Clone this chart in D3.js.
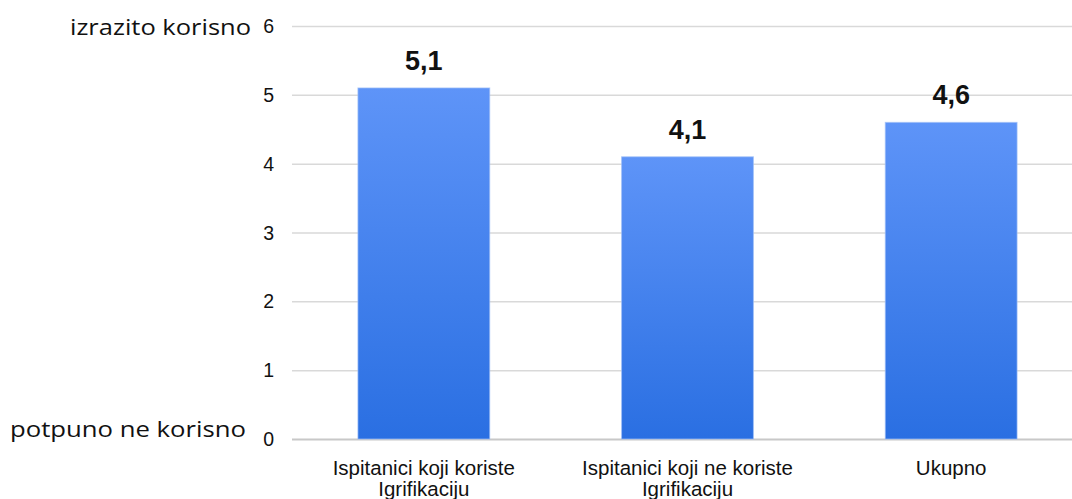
<!DOCTYPE html>
<html><head><meta charset="utf-8">
<script src="https://cdn.jsdelivr.net/npm/d3@7"></script>
<style>body{margin:0;background:#fff}svg{display:block}</style>
</head><body>
<svg id="c" width="1072" height="499"></svg>
<script>
const categories = [["Ispitanici koji koriste","Igrifikaciju"],["Ispitanici koji ne koriste","Igrifikaciju"],["Ukupno"]];
const values = [5.1, 4.1, 4.6];
const valueLabels = ["5,1","4,1","4,6"];
const yTicks = [0,1,2,3,4,5,6];
const topLabel = "izrazito korisno";
const bottomLabel = "potpuno ne korisno";

const svg = d3.select("#c");
const x = d3.scaleBand().domain(d3.range(values.length)).range([292, 1083]).paddingInner(0.5).paddingOuter(0.25);
const y = d3.scaleLinear().domain([0, 6]).range([439, 26]);

const defs = svg.append("defs");
const g = defs.append("linearGradient").attr("id","bg").attr("x1",0).attr("y1",0).attr("x2",0).attr("y2",1);
g.append("stop").attr("offset","0%").attr("stop-color","#5e94f8");
g.append("stop").attr("offset","100%").attr("stop-color","#2a6fe2");

// gridlines
svg.append("g").selectAll("line").data(yTicks).join("line")
  .attr("x1",292).attr("x2",1072)
  .attr("y1",d=>y(d)+0.5).attr("y2",d=>y(d)+0.5)
  .attr("stroke", d=> d===0 ? "#c8c8c8" : "#d9d9d9").attr("stroke-width", d=> d===0?2:1.5);

// tick labels
svg.append("g").selectAll("text").data(yTicks).join("text")
  .attr("x",274).attr("y",d=>y(d)+7)
  .attr("text-anchor","end")
  .attr("font-family","'Liberation Sans', Arial, sans-serif").attr("font-size",19.5).attr("fill","#111")
  .text(d=>d);

svg.append("text").attr("x",70).attr("y",35)
  .attr("font-family","'Open Sans', sans-serif").attr("font-size",22).attr("fill","#111")
  .attr("textLength",181).attr("lengthAdjust","spacingAndGlyphs")
  .text(topLabel);
svg.append("text").attr("x",10).attr("y",437)
  .attr("font-family","'Open Sans', sans-serif").attr("font-size",22).attr("fill","#111")
  .attr("textLength",236).attr("lengthAdjust","spacingAndGlyphs")
  .text(bottomLabel);

// bars
svg.append("g").selectAll("rect").data(values).join("rect")
  .attr("x",(d,i)=>x(i)).attr("width",x.bandwidth())
  .attr("y",d=>y(d)).attr("height",d=>y(0)-y(d))
  .attr("fill","url(#bg)").attr("stroke","#9fbff8").attr("stroke-width",1).attr("stroke-opacity",0.7);

// value labels
svg.append("g").selectAll("text").data(values).join("text")
  .attr("x",(d,i)=>x(i)+x.bandwidth()/2).attr("y",d=>y(d)-18)
  .attr("text-anchor","middle")
  .attr("font-family","'Liberation Sans', Arial, sans-serif").attr("font-weight","bold").attr("font-size",27).attr("fill","#111")
  .text((d,i)=>valueLabels[i]);

// category labels
const cl = svg.append("g").selectAll("text").data(categories).join("text")
  .attr("x",(d,i)=>x(i)+x.bandwidth()/2).attr("y",475)
  .attr("text-anchor","middle")
  .attr("font-family","'Liberation Sans', Arial, sans-serif").attr("font-size",20.5).attr("fill","#111");
cl.selectAll("tspan").data(d=>d).join("tspan")
  .attr("x",function(){return this.parentNode.getAttribute("x");})
  .attr("dy",(d,i)=>i===0?0:21).text(d=>d);
</script>
</body></html>
